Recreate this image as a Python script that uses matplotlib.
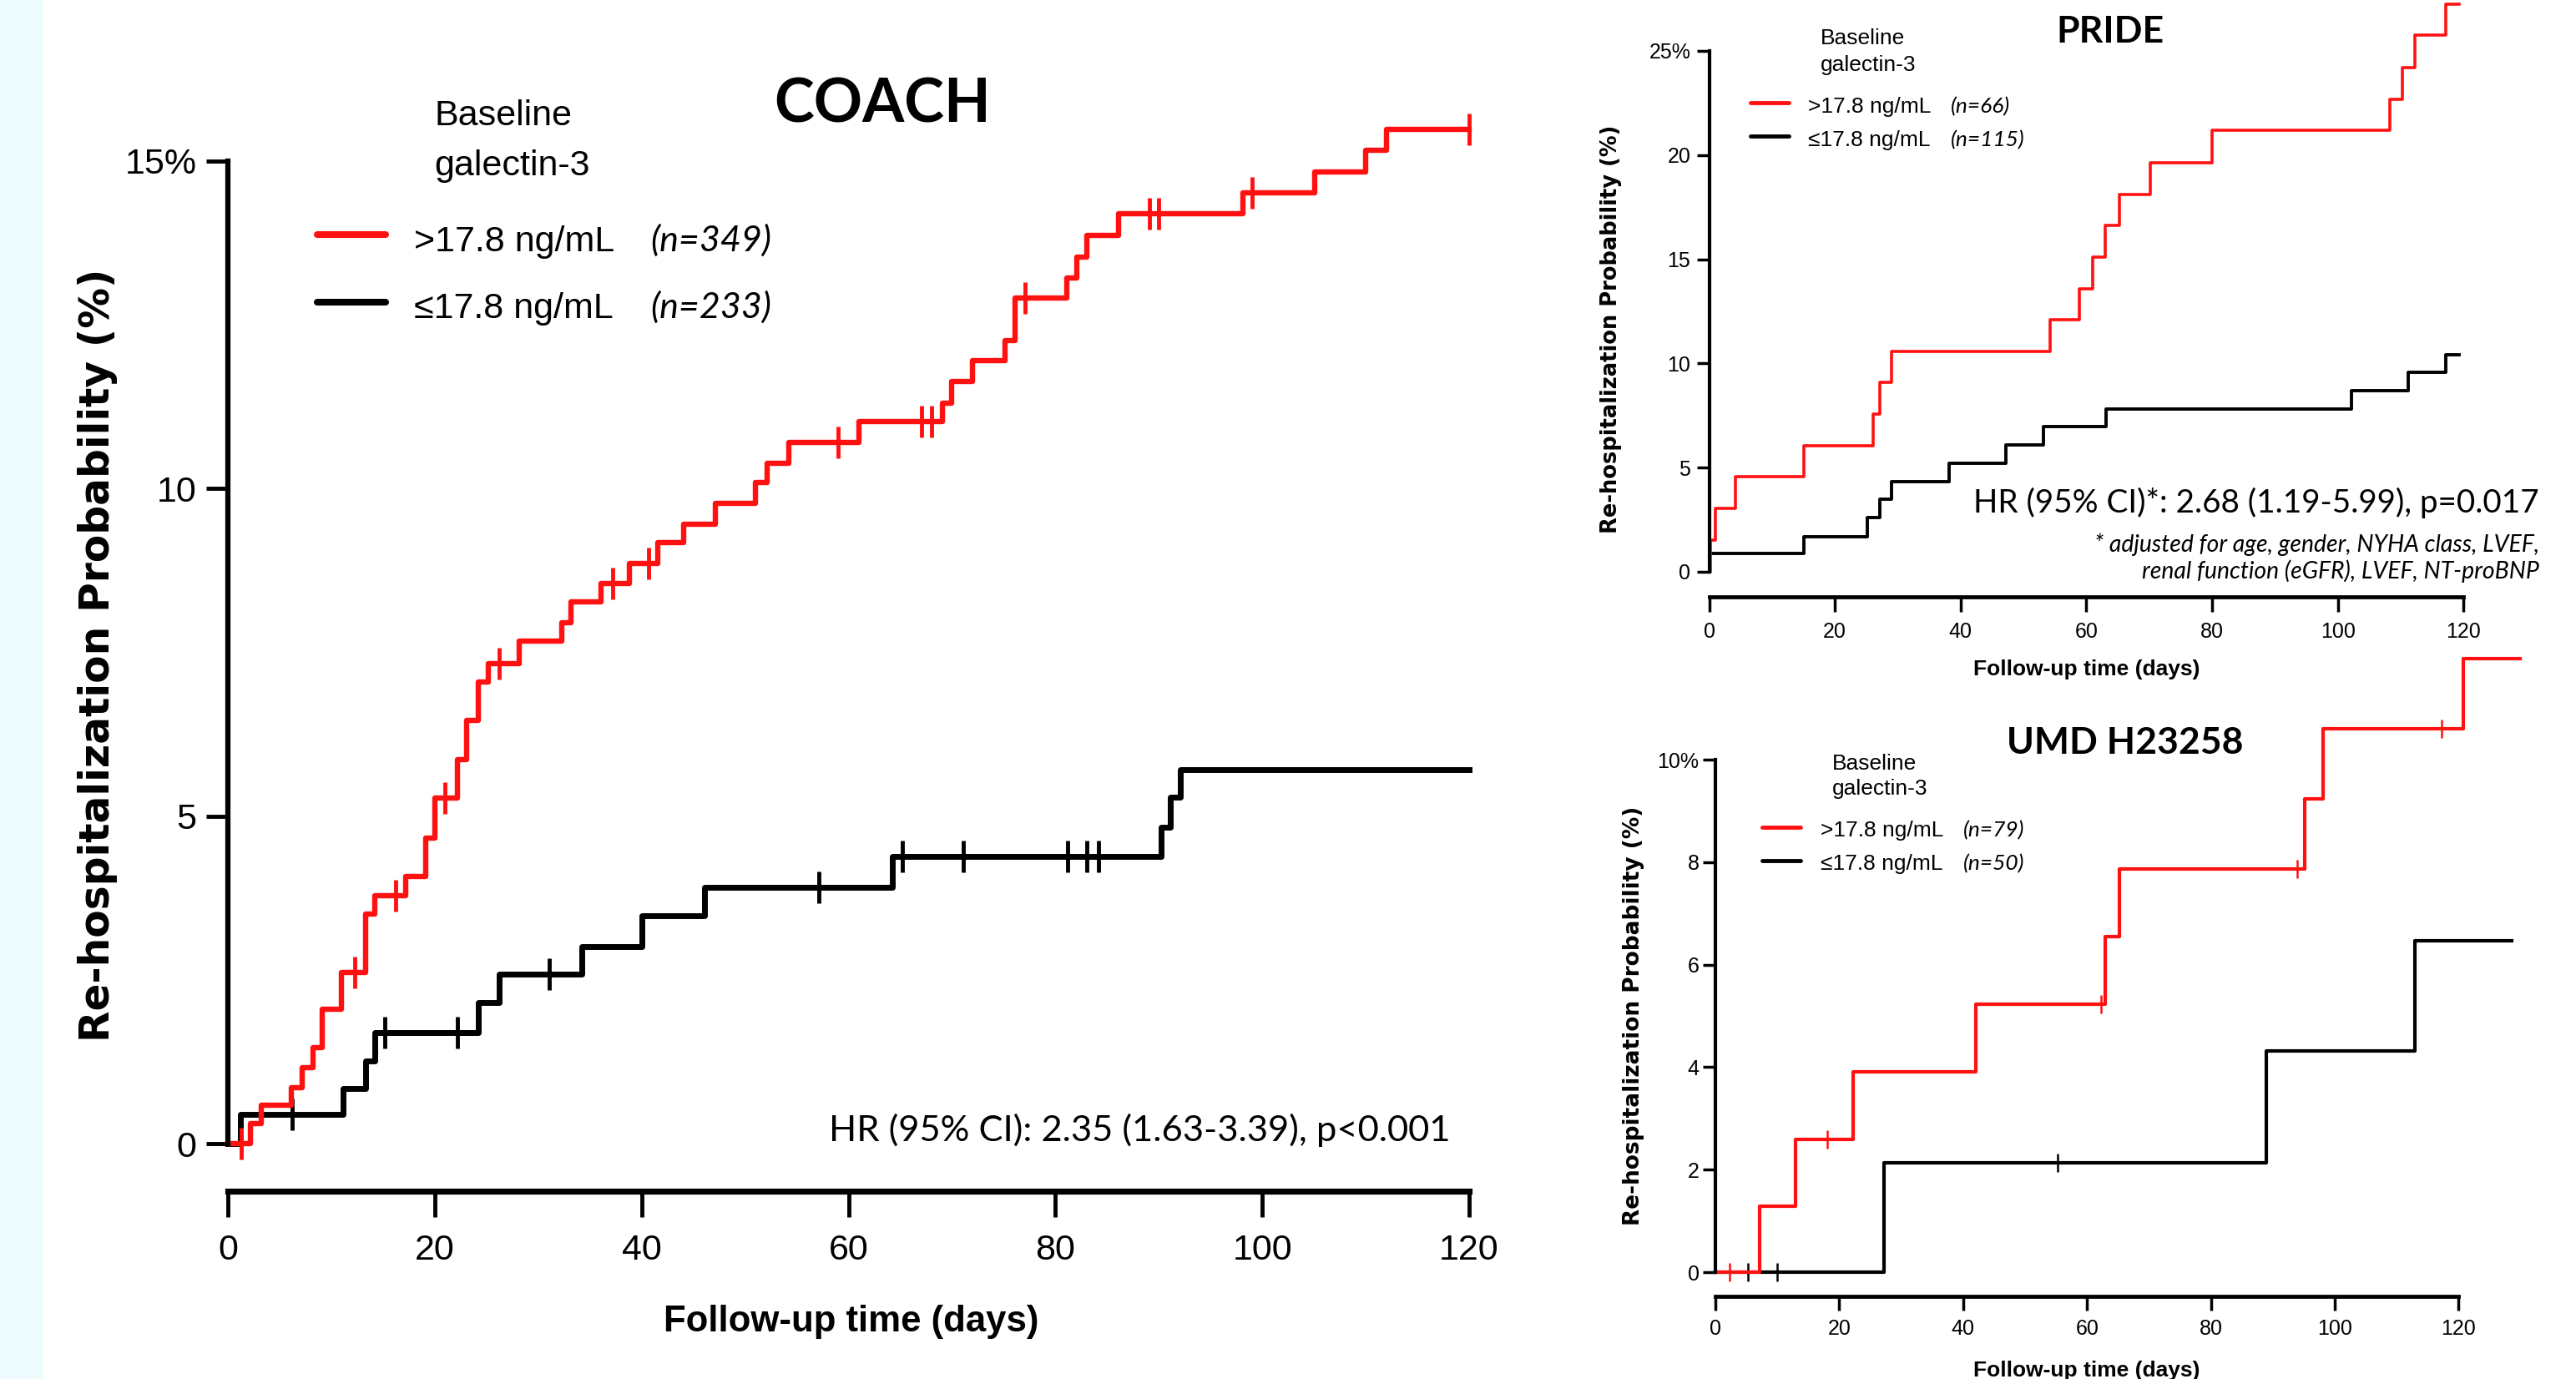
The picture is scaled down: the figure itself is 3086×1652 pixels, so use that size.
import numpy as np
import matplotlib
matplotlib.use("Agg")
import matplotlib.pyplot as plt
from matplotlib.lines import Line2D

OUTPUT_PATH = "out.png"
W, H, DPI = 3086, 1652, 100

RED = "#ff1111"
BLACK = "#000000"
ARIAL = "Liberation Sans"
CALIBRI = "Lato"

# ---- COACH: cumulative re-hospitalization (%) by day ----
coach_hi_days = [0, 2.2, 3.2, 6.1, 7.2, 8.2, 9.1, 11.0, 13.3, 14.2, 17.2, 19.1, 20.0, 22.2,
                 23.1, 24.2, 25.2, 28.2, 32.3, 33.2, 36.1, 38.8, 41.6, 44.1, 47.1, 51.0, 52.1,
                 54.2, 61.0, 69.1, 70.0, 72.0, 75.1, 76.1, 81.1, 82.1, 83.0, 86.1, 98.1, 105.1,
                 110.0, 112.0, 120.0]
coach_hi_pct = [0, 0.30, 0.59, 0.86, 1.16, 1.47, 2.05, 2.61, 3.50, 3.79, 4.08, 4.67, 5.28, 5.86,
                6.46, 7.05, 7.33, 7.67, 7.95, 8.27, 8.55, 8.86, 9.18, 9.45, 9.78, 10.09, 10.39,
                10.70, 11.03, 11.31, 11.63, 11.95, 12.26, 12.91, 13.22, 13.53, 13.87, 14.20,
                14.51, 14.83, 15.16, 15.48, 15.48]
coach_hi_cens = [1.3, 12.3, 16.2, 21.0, 26.2, 37.2, 40.7, 59.0, 67.1, 68.0, 77.1, 89.1, 90.0,
                 99.0, 120.0]
coach_lo_days = [0, 1.2, 11.1, 13.3, 14.2, 24.2, 26.2, 34.2, 40.0, 46.1, 64.2, 90.2, 91.1, 92.1, 120.0]
coach_lo_pct = [0, 0.44, 0.84, 1.26, 1.69, 2.16, 2.59, 3.01, 3.48, 3.91, 4.38, 4.83, 5.29, 5.71, 5.71]
coach_lo_cens = [6.2, 15.2, 22.2, 31.1, 57.1, 65.2, 71.1, 81.2, 83.0, 84.2]

# ---- PRIDE ----
pride_hi_days = [0, 0.2, 1.0, 4.2, 15.1, 26.1, 27.1, 29.0, 54.2, 58.9, 61.0, 63.0, 65.3, 70.1,
                 80.0, 108.2, 110.2, 112.2, 117.2, 119.3]
pride_hi_pct = [0, 1.53, 3.03, 4.55, 6.03, 7.56, 9.09, 10.56, 12.08, 13.59, 15.11, 16.63, 18.12,
                19.65, 21.18, 22.67, 24.2, 25.75, 27.25, 27.25]
pride_lo_days = [0, 15.1, 25.1, 27.1, 29.0, 38.2, 47.2, 53.2, 63.1, 102.1, 111.2, 117.2, 119.3]
pride_lo_pct = [0.89, 1.69, 2.60, 3.49, 4.32, 5.20, 6.09, 6.96, 7.80, 8.69, 9.56, 10.4, 10.4]

# ---- UMD H23258 ----
umd_hi_days = [0, 7.1, 13.0, 22.2, 42.0, 62.9, 65.2, 95.1, 98.1, 120.8, 129.9]
umd_hi_pct = [0, 1.28, 2.59, 3.91, 5.22, 6.55, 7.87, 9.24, 10.6, 11.97, 11.97]
umd_hi_cens = [2.3, 18.1, 62.2, 94.0, 117.2]
umd_lo_days = [0, 27.2, 89.0, 112.9, 128.6]
umd_lo_pct = [0, 2.14, 4.31, 6.47, 6.47]
umd_lo_cens = [5.3, 10.0, 55.3]

x_ticks = [0, 20, 40, 60, 80, 100, 120]


def px(x, y):
    return x / W, 1 - y / H


def km(ax, days, pct, cens, color, lw, ms=0, mew=0):
    ax.step(days, pct, where="post", color=color, lw=lw, clip_on=False)
    if cens:
        d = np.asarray(days)
        p = np.asarray(pct)
        idx = np.searchsorted(d, cens, side="right") - 1
        ax.plot(cens, p[idx], ls="none", marker="|", ms=ms, mew=mew,
                color=color, clip_on=False)


def style_axes(ax, ymax, yticks, ylabels, spine_lw, tick_w, ylen, xlen, out, fs, ypad, xpad):
    ax.set_xlim(0, 120)
    ax.set_ylim(0, ymax)
    ax.patch.set_visible(False)
    ax.spines["top"].set_visible(False)
    ax.spines["right"].set_visible(False)
    ax.spines["left"].set_linewidth(spine_lw)
    ax.spines["bottom"].set_linewidth(spine_lw * 1.15)
    ax.spines["bottom"].set_position(("outward", out))
    ax.spines["bottom"].set_bounds(0, 120)
    ax.spines["left"].set_bounds(0, ymax)
    ax.set_xticks(x_ticks)
    ax.set_yticks(yticks)
    ax.set_yticklabels(ylabels)
    ax.tick_params(axis="y", length=ylen, width=tick_w, pad=ypad, labelsize=fs)
    ax.tick_params(axis="x", length=xlen, width=tick_w, pad=xpad, labelsize=fs)
    for lab in ax.get_xticklabels() + ax.get_yticklabels():
        lab.set_fontfamily(ARIAL)


def legend_block(fig, bx, by1, by2, lx1, lx2, ly, ty, tx, nx, labels, ns, fs, lw):
    fig.text(*px(bx, by1), "Baseline", fontsize=fs, family=ARIAL, va="baseline")
    fig.text(*px(bx, by2), "galectin-3", fontsize=fs, family=ARIAL, va="baseline")
    for i, (col, lab, n) in enumerate(zip([RED, BLACK], labels, ns)):
        x1, y1 = px(lx1, ly[i])
        x2, _ = px(lx2, ly[i])
        fig.add_artist(Line2D([x1, x2], [y1, y1], color=col, lw=lw,
                              solid_capstyle="round"))
        fig.text(*px(tx, ty[i]), lab, fontsize=fs, family=ARIAL, va="baseline")
        fig.text(*px(nx, ty[i]), n, fontsize=fs, family=CALIBRI, style="italic",
                 va="baseline")


def main():
    fig = plt.figure(figsize=(W / DPI, H / DPI), dpi=DPI)
    fig.patch.set_facecolor("white")
    fig.add_artist(plt.Rectangle((0, 0), 50 / W, 1, transform=fig.transFigure,
                                 color="#eefcfd", zorder=-5))

    group_labels = [">17.8 ng/mL", "\u226417.8 ng/mL"]

    # COACH panel
    ax1 = fig.add_axes([273 / W, 1 - 1370 / H, (1760 - 273) / W, (1370 - 193) / H])
    style_axes(ax1, 15, [0, 5, 10, 15], ["0", "5", "10", "15%"], 4.5, 3.5, 19, 22, 41, 31, 8, 15)
    km(ax1, coach_lo_days, coach_lo_pct, coach_lo_cens, BLACK, 5.0, 27, 3.5)
    km(ax1, coach_hi_days, coach_hi_pct, coach_hi_cens, RED, 4.6, 27, 3.5)
    fig.text(*px(1057, 126), "COACH", fontsize=52, family=CALIBRI, weight="bold",
             ha="center", va="center")
    legend_block(fig, 520, 150, 210, 380, 462, [281, 362], [301, 381], 496, 779,
                 group_labels, ["(n=349)", "(n=233)"], 31, 5.8)
    fig.text(*px(1738, 1354), "HR (95% CI): 2.35 (1.63-3.39), p<0.001", fontsize=31.3,
             family=CALIBRI, ha="right", va="center")
    fig.text(*px(117, 785), "Re-hospitalization Probability (%)", fontsize=35,
             family="DejaVu Sans", weight="bold", rotation=90, ha="center", va="center")
    fig.text(*px(1020, 1583), "Follow-up time (days)", fontsize=31.5, family=ARIAL,
             weight="bold", ha="center", va="center")

    # PRIDE panel
    ax2 = fig.add_axes([2047.5 / W, 1 - 685 / H, (2951.4 - 2047.5) / W, (685 - 61) / H])
    style_axes(ax2, 25, [0, 5, 10, 15, 20, 25], ["0", "5", "10", "15", "20", "25%"],
               3.0, 2.5, 11, 13, 21.5, 18, 5, 9)
    km(ax2, pride_lo_days, pride_lo_pct, [], BLACK, 2.8)
    km(ax2, pride_hi_days, pride_hi_pct, [], RED, 2.6)
    fig.text(*px(2528, 38), "PRIDE", fontsize=32, family=CALIBRI, weight="bold",
             ha="center", va="center")
    legend_block(fig, 2181, 53, 85, 2097, 2143, [123, 163], [135, 175], 2166, 2337,
                 group_labels, ["(n=66)", "(n=115)"], 19, 3.5)
    fig.text(*px(3042, 602), "HR (95% CI)*: 2.68 (1.19-5.99), p=0.017", fontsize=27.8,
             family=CALIBRI, ha="right", va="center")
    fig.text(*px(3042, 652), "* adjusted for age, gender, NYHA class, LVEF,", fontsize=20.4,
             family=CALIBRI, style="italic", ha="right", va="center")
    fig.text(*px(3042, 684), "renal function (eGFR), LVEF, NT-proBNP", fontsize=20.4,
             family=CALIBRI, style="italic", ha="right", va="center")
    fig.text(*px(1930, 394), "Re-hospitalization Probability (%)", fontsize=18.5,
             family="DejaVu Sans", weight="bold", rotation=90, ha="center", va="center")
    fig.text(*px(2500, 802), "Follow-up time (days)", fontsize=19, family=ARIAL,
             weight="bold", ha="center", va="center")

    # UMD H23258 panel
    ax3 = fig.add_axes([2055 / W, 1 - 1524 / H, (2945.4 - 2055) / W, (1524 - 910) / H])
    style_axes(ax3, 10, [0, 2, 4, 6, 8, 10], ["0", "2", "4", "6", "8", "10%"],
               3.0, 2.5, 11, 12, 21, 18, 3, 7)
    km(ax3, umd_lo_days, umd_lo_pct, umd_lo_cens, BLACK, 3.0, 16, 1.8)
    km(ax3, umd_hi_days, umd_hi_pct, umd_hi_cens, RED, 3.0, 16, 1.8)
    fig.text(*px(2546, 890), "UMD H23258", fontsize=32, family=CALIBRI, weight="bold",
             ha="center", va="center")
    legend_block(fig, 2195, 922, 952, 2111, 2157, [991, 1031], [1002, 1042], 2181, 2352,
                 group_labels, ["(n=79)", "(n=50)"], 19, 3.5)
    fig.text(*px(1957, 1217), "Re-hospitalization Probability (%)", fontsize=19,
             family="DejaVu Sans", weight="bold", rotation=90, ha="center", va="center")
    fig.text(*px(2500, 1642), "Follow-up time (days)", fontsize=19, family=ARIAL,
             weight="bold", ha="center", va="center")

    fig.savefig(OUTPUT_PATH, dpi=DPI)
    plt.close(fig)


if __name__ == "__main__":
    main()
